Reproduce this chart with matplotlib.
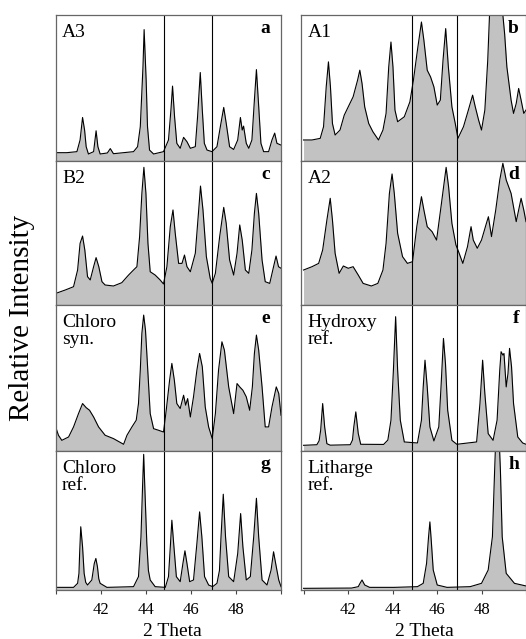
import matplotlib
matplotlib.use('Agg')
import matplotlib.pyplot as plt

plt.rcParams['font.family'] = ['Liberation Serif', 'DejaVu Serif']

# traced patterns: (2 theta, relative intensity in % of panel height)
a3 = [(40.00, 5.7), (40.50, 5.7), (40.95, 6.4), (41.09, 14.4), (41.20, 29.8), (41.29, 21.2),
      (41.36, 9.8), (41.46, 4.8), (41.69, 6.4), (41.80, 20.7), (41.88, 9.8), (41.98, 4.8),
      (42.30, 5.5), (42.43, 8.5), (42.57, 5.0), (43.46, 6.4), (43.64, 9.8), (43.76, 23.5),
      (43.88, 64.9), (43.93, 90.0), (44.02, 55.4), (44.08, 23.5), (44.17, 7.5), (44.35, 4.8),
      (44.79, 6.4), (45.01, 14.4), (45.12, 35.3), (45.19, 51.3), (45.28, 30.3), (45.38, 12.1),
      (45.53, 8.7), (45.68, 16.2), (45.83, 13.2), (45.98, 8.7), (46.20, 9.8), (46.30, 30.3),
      (46.42, 60.6), (46.51, 34.9), (46.60, 12.1), (46.72, 7.5), (46.94, 6.4), (47.16, 9.8),
      (47.31, 23.5), (47.46, 36.7), (47.57, 25.9), (47.72, 9.8), (47.90, 7.9), (48.08, 14.4),
      (48.20, 29.8), (48.28, 21.2), (48.34, 23.9), (48.46, 12.1), (48.57, 8.7), (48.71, 14.4),
      (48.82, 41.7), (48.91, 62.6), (49.01, 37.6), (49.11, 12.1), (49.23, 6.4), (49.45, 6.4),
      (49.60, 14.4), (49.72, 19.1), (49.82, 12.1), (50.00, 10.9)]

a1 = [(40.00, 14.4), (40.38, 14.4), (40.75, 15.5), (40.90, 23.5), (41.02, 50.8), (41.12, 67.9),
      (41.21, 50.8), (41.30, 25.7), (41.42, 17.8), (41.64, 21.2), (41.83, 31.4), (42.01, 37.1),
      (42.23, 44.0), (42.43, 55.4), (42.53, 62.2), (42.63, 53.1), (42.75, 37.1), (42.93, 25.7),
      (43.12, 20.0), (43.37, 14.4), (43.57, 21.2), (43.71, 32.6), (43.83, 64.5), (43.93, 81.5),
      (44.02, 64.5), (44.11, 34.9), (44.23, 26.9), (44.53, 30.3), (44.78, 40.5), (44.94, 55.4),
      (45.12, 75.9), (45.30, 95.2), (45.41, 82.7), (45.56, 62.2), (45.71, 57.6), (45.86, 50.8),
      (46.01, 38.3), (46.15, 41.7), (46.27, 69.0), (46.39, 90.7), (46.51, 64.5), (46.67, 37.1),
      (46.82, 25.7), (46.94, 15.5), (47.19, 23.5), (47.41, 34.9), (47.60, 45.1), (47.72, 37.1),
      (47.87, 28.0), (48.00, 21.2), (48.15, 34.9), (48.28, 69.0), (48.36, 100.0), (48.60, 125.0),
      (48.85, 125.0), (48.96, 100.0), (49.04, 87.0), (49.14, 64.5), (49.33, 41.7), (49.44, 32.6),
      (49.56, 39.4), (49.67, 49.7), (49.78, 41.7), (49.90, 32.6), (50.00, 34.9)]

b2 = [(40.00, 8.0), (40.43, 10.4), (40.80, 12.7), (40.98, 24.3), (41.09, 42.8), (41.20, 47.9),
      (41.30, 38.2), (41.42, 19.7), (41.54, 17.4), (41.69, 26.6), (41.80, 32.9), (41.92, 26.6),
      (42.06, 16.2), (42.20, 13.9), (42.57, 13.2), (42.94, 15.5), (43.24, 20.8), (43.46, 24.3),
      (43.61, 26.6), (43.73, 47.5), (43.83, 77.5), (43.92, 95.6), (44.01, 77.5), (44.10, 42.8),
      (44.20, 23.1), (44.42, 20.8), (44.64, 17.4), (44.79, 14.6), (44.94, 26.6), (45.09, 54.4),
      (45.21, 66.0), (45.31, 49.8), (45.46, 28.9), (45.61, 28.9), (45.72, 34.7), (45.83, 26.6),
      (45.98, 23.1), (46.20, 35.9), (46.35, 66.0), (46.43, 82.6), (46.54, 66.0), (46.69, 33.6),
      (46.86, 18.5), (46.95, 15.0), (47.09, 22.0), (47.28, 47.5), (47.46, 67.8), (47.57, 56.7),
      (47.72, 31.3), (47.90, 20.8), (48.05, 35.9), (48.17, 55.6), (48.28, 45.1), (48.42, 24.3),
      (48.57, 22.0), (48.71, 38.2), (48.82, 63.7), (48.91, 77.5), (49.01, 63.7), (49.16, 31.3),
      (49.30, 16.2), (49.50, 15.0), (49.67, 26.6), (49.78, 34.0), (49.89, 26.6), (50.00, 25.5)]

a2 = [(40.00, 24.3), (40.38, 26.6), (40.68, 28.9), (40.86, 38.2), (41.05, 59.0), (41.20, 74.1),
      (41.30, 59.0), (41.42, 35.9), (41.60, 22.0), (41.79, 27.1), (42.01, 25.5), (42.23, 26.6),
      (42.46, 20.8), (42.68, 15.0), (43.05, 13.2), (43.34, 15.0), (43.57, 24.3), (43.71, 42.8),
      (43.86, 77.5), (43.98, 91.0), (44.08, 77.5), (44.23, 49.8), (44.45, 33.6), (44.67, 28.9),
      (44.90, 30.1), (45.09, 54.4), (45.30, 75.2), (45.41, 66.0), (45.56, 54.4), (45.78, 50.9),
      (45.98, 45.1), (46.18, 68.3), (46.41, 95.6), (46.52, 82.2), (46.67, 56.7), (46.85, 41.7),
      (46.97, 37.0), (47.16, 28.9), (47.37, 40.5), (47.53, 54.4), (47.63, 45.1), (47.81, 39.4),
      (48.00, 45.1), (48.22, 56.7), (48.31, 61.3), (48.45, 47.5), (48.64, 66.0), (48.82, 86.8),
      (48.96, 98.4), (49.11, 86.8), (49.33, 77.5), (49.56, 57.9), (49.67, 66.0), (49.78, 74.1),
      (49.90, 66.0), (50.00, 57.9)]

chloro_syn = [(40.00, 16.9), (40.13, 10.8), (40.28, 7.3), (40.58, 9.6), (40.80, 16.5), (41.02, 25.6),
              (41.20, 32.5), (41.36, 29.7), (41.51, 27.9), (41.69, 23.3), (41.91, 16.5), (42.20, 10.8),
              (42.57, 8.5), (43.02, 4.6), (43.17, 10.8), (43.39, 16.5), (43.58, 21.1), (43.68, 32.5),
              (43.76, 55.4), (43.83, 80.5), (43.91, 93.1), (43.99, 82.8), (44.05, 66.8), (44.20, 25.6),
              (44.35, 15.3), (44.57, 14.2), (44.79, 13.0), (44.91, 27.9), (45.06, 48.5), (45.16, 60.0),
              (45.27, 48.5), (45.38, 32.5), (45.53, 29.1), (45.68, 38.2), (45.77, 31.4), (45.86, 35.9),
              (45.98, 23.3), (46.12, 37.1), (46.27, 55.4), (46.39, 66.8), (46.51, 57.7), (46.64, 30.2),
              (46.79, 16.5), (46.95, 8.5), (47.09, 25.6), (47.23, 55.4), (47.38, 74.8), (47.49, 69.1),
              (47.68, 43.9), (47.90, 25.6), (48.05, 46.2), (48.17, 43.9), (48.31, 41.6), (48.46, 37.1),
              (48.61, 27.9), (48.73, 43.9), (48.82, 66.8), (48.91, 79.4), (49.01, 69.1), (49.16, 43.9),
              (49.30, 16.5), (49.45, 16.5), (49.60, 30.2), (49.79, 43.9), (49.90, 39.4), (50.00, 24.5)]

hydroxy_ref = [(40.00, 3.9), (40.60, 4.3), (40.70, 7.0), (40.77, 14.2), (40.86, 32.5), (40.95, 16.5),
               (41.05, 5.0), (41.20, 4.0), (42.10, 4.3), (42.20, 7.5), (42.26, 16.5), (42.35, 26.8),
               (42.46, 12.0), (42.57, 4.6), (43.60, 4.5), (43.79, 7.5), (43.93, 21.1), (44.04, 55.4),
               (44.14, 92.0), (44.23, 55.4), (44.35, 21.1), (44.53, 6.2), (45.12, 5.5), (45.30, 21.1),
               (45.38, 43.9), (45.46, 62.2), (45.56, 43.9), (45.68, 16.5), (45.86, 6.9), (46.08, 16.5),
               (46.18, 43.9), (46.29, 77.1), (46.38, 60.0), (46.48, 27.9), (46.67, 7.3), (46.89, 4.6),
               (47.78, 6.2), (47.93, 32.5), (48.05, 62.2), (48.15, 39.4), (48.30, 11.9), (48.52, 7.3),
               (48.70, 21.1), (48.82, 55.4), (48.88, 68.0), (48.96, 65.7), (49.01, 66.8), (49.11, 43.9),
               (49.19, 53.1), (49.26, 70.3), (49.35, 57.7), (49.44, 32.5), (49.63, 9.6), (49.85, 5.5),
               (50.00, 4.6)]

chloro_ref = [(40.00, 1.9), (40.80, 1.9), (40.98, 4.8), (41.04, 12.0), (41.07, 26.3), (41.12, 45.5),
              (41.20, 31.1), (41.27, 12.0), (41.34, 5.5), (41.42, 3.6), (41.61, 7.2), (41.72, 19.1),
              (41.79, 22.7), (41.86, 16.7), (41.92, 8.0), (41.98, 4.8), (42.28, 1.9), (43.46, 2.4),
              (43.68, 9.6), (43.79, 38.3), (43.86, 74.2), (43.91, 97.6), (43.96, 74.2), (44.05, 33.5),
              (44.12, 14.0), (44.20, 7.2), (44.42, 2.4), (44.87, 1.9), (45.01, 9.6), (45.10, 33.5),
              (45.16, 50.2), (45.24, 33.5), (45.36, 9.6), (45.53, 6.0), (45.65, 19.1), (45.74, 28.2),
              (45.83, 19.1), (45.95, 6.0), (46.12, 7.2), (46.27, 33.5), (46.39, 56.2), (46.49, 38.3),
              (46.61, 9.6), (46.79, 3.6), (46.97, 2.4), (47.16, 4.8), (47.27, 14.0), (47.34, 38.3),
              (47.44, 68.9), (47.54, 38.3), (47.68, 9.6), (47.90, 6.0), (48.08, 26.3), (48.21, 55.0),
              (48.31, 31.1), (48.46, 7.2), (48.64, 9.6), (48.79, 38.3), (48.91, 66.0), (49.01, 38.3),
              (49.16, 7.2), (49.38, 3.6), (49.56, 14.4), (49.67, 27.5), (49.79, 16.7), (49.90, 7.2),
              (50.00, 2.4)]

litharge_ref = [(40.00, 1.2), (42.16, 1.4), (42.46, 2.4), (42.54, 4.8), (42.63, 7.2), (42.75, 3.6),
                (42.97, 1.9), (44.08, 1.9), (45.12, 2.4), (45.38, 4.8), (45.53, 19.1), (45.62, 38.3),
                (45.68, 49.0), (45.74, 35.9), (45.83, 14.4), (46.01, 3.6), (46.45, 1.9), (47.49, 2.4),
                (48.00, 4.8), (48.30, 14.4), (48.49, 38.3), (48.59, 86.1), (48.67, 122.0),
                (48.70, 134.0), (48.76, 122.0), (48.85, 86.1), (48.93, 38.3), (49.11, 12.0),
                (49.48, 4.8), (50.00, 2.9)]

left_col = [(a3, 'A3', 'a'), (b2, 'B2', 'c'), (chloro_syn, 'Chloro\nsyn.', 'e'), (chloro_ref, 'Chloro\nref.', 'g')]
right_col = [(a1, 'A1', 'b'), (a2, 'A2', 'd'), (hydroxy_ref, 'Hydroxy\nref.', 'f'), (litharge_ref, 'Litharge\nref.', 'h')]

marker_lines = [[44.83, 46.96], [44.88, 46.92]]
tick_pos = [40, 42, 44, 46, 48, 50]
tick_lab = ['', '42', '44', '46', '48', '']

W, H = 526, 639
row_edges = [15, 161, 305, 451, 590]   # pixel rows of panel borders
col_edges = [(55.5, 281.0), (301.3, 526.0)]
col_xlim = [(40.0, 50.0), (39.9, 50.0)]
letter_pad = [-11, -7]

fig = plt.figure(figsize=(W / 100, H / 100), dpi=100)

for c, col in enumerate([left_col, right_col]):
    x0, x1 = col_edges[c]
    for r, (data, name, letter) in enumerate(col):
        top, bot = row_edges[r], row_edges[r + 1]
        ax = fig.add_axes([x0 / W, 1 - bot / H, (x1 - x0) / W, (bot - top) / H])
        xs = [p[0] for p in data]
        ys = [p[1] for p in data]
        ax.fill_between(xs, ys, 0, color='#c2c2c2', lw=0)
        ax.plot(xs, ys, color='k', lw=0.8)
        for v in marker_lines[c]:
            ax.axvline(v, color='k', lw=0.8)
        ax.set_xlim(*col_xlim[c])
        ax.set_ylim(0, 100)
        ax.set_yticks([])
        for sp in ax.spines.values():
            sp.set_color('#666666')
            sp.set_linewidth(0.9)
        if r == 3:
            ax.set_xticks(tick_pos)
            ax.set_xticklabels(tick_lab, fontsize=12)
            ax.tick_params(axis='x', direction='out', length=3, pad=6, color='#444444')
        else:
            ax.set_xticks([])
        ax.annotate(name, xy=(0, 1), xycoords='axes fraction', xytext=(6.5, -9),
                    textcoords='offset pixels', ha='left', va='top', fontsize=14, linespacing=1.0)
        ax.annotate(letter, xy=(1, 1), xycoords='axes fraction', xytext=(letter_pad[c], -18),
                    textcoords='offset pixels', ha='right', va='baseline', fontsize=14,
                    fontweight='bold')

fig.text(22 / W, 1 - 318 / H, 'Relative Intensity', rotation=90, ha='center', va='center', fontsize=21)
fig.text(172 / W, 1 - 636 / H, '2 Theta', ha='center', va='baseline', fontsize=14)
fig.text(424 / W, 1 - 636 / H, '2 Theta', ha='center', va='baseline', fontsize=14)

fig.savefig('out.png', dpi=100)
